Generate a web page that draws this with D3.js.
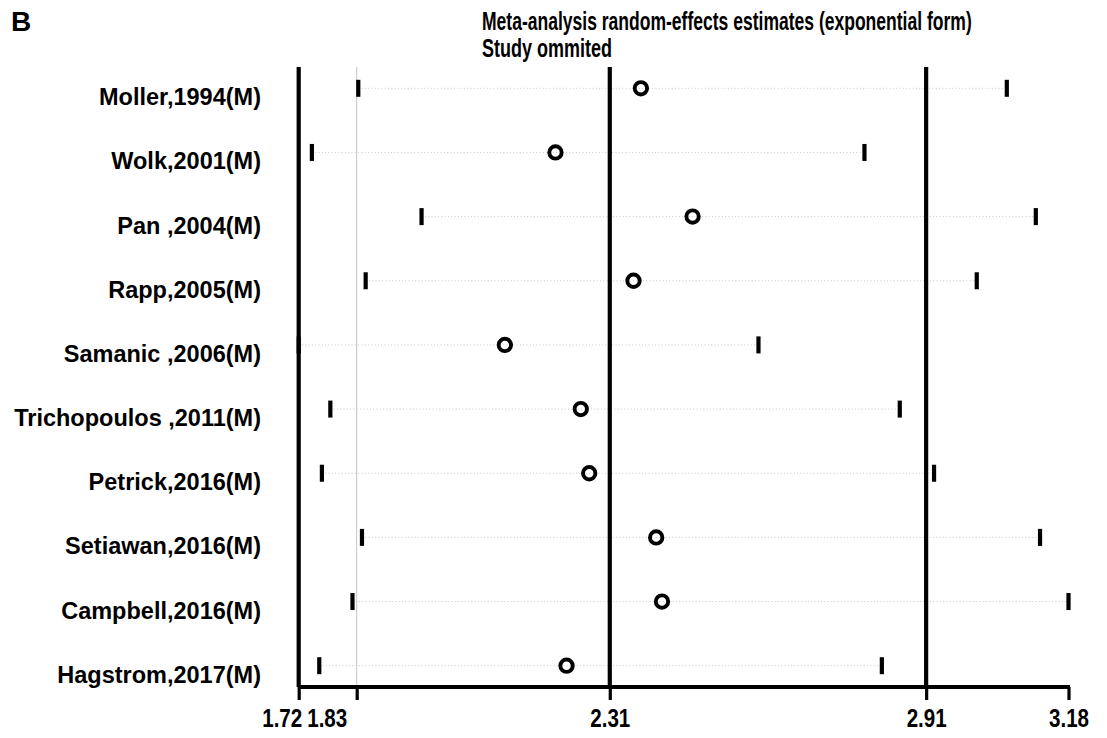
<!DOCTYPE html>
<html>
<head>
<meta charset="utf-8">
<script src="https://cdn.jsdelivr.net/npm/d3@7"></script>
<style>
  html, body { margin: 0; padding: 0; background: #fff; }
  svg { display: block; }
  text { font-family: "Liberation Sans", Arial, sans-serif; font-weight: bold; fill: #000; }
</style>
</head>
<body>
<svg id="chart" width="1107" height="738"></svg>
<script>
// Leave-one-out sensitivity analysis: pooled estimate with each study omitted
const studies = [
  "Moller,1994(M)", "Wolk,2001(M)", "Pan ,2004(M)", "Rapp,2005(M)",
  "Samanic ,2006(M)", "Trichopoulos ,2011(M)", "Petrick,2016(M)",
  "Setiawan,2016(M)", "Campbell,2016(M)", "Hagstrom,2017(M)"
];
const estimates = [2.369, 2.207, 2.467, 2.355, 2.111, 2.255, 2.271, 2.398, 2.409, 2.228];
const lowerCI   = [1.833, 1.745, 1.953, 1.847, 1.720, 1.780, 1.764, 1.840, 1.822, 1.759];
const upperCI   = [3.063, 2.793, 3.118, 3.006, 2.592, 2.860, 2.925, 3.126, 3.180, 2.826];

// Overall pooled estimate and its confidence limits
const pooledLower = 1.83;
const pooledEstimate = 2.31;
const pooledUpper = 2.91;

const axisMin = 1.72;
const axisMax = 3.18;
const tickValues = [1.72, 1.83, 2.31, 2.91, 3.18];
// the two crowded labels on the left are nudged apart from each other
const tickLabelShift = { "1.72": -17, "1.83": -30 };

const titleLines = ["Meta-analysis random-effects estimates (exponential form)", "Study ommited"];
const panelLetter = "B";

const rows = studies.map((s, i) => ({
  study: s, est: estimates[i], lo: lowerCI[i], hi: upperCI[i]
}));

const svg = d3.select("#chart");

const x = d3.scaleLinear().domain([axisMin, axisMax]).range([298.7, 1068.5]);
const y = d3.scalePoint().domain(studies).range([88.3, 665.7]);

const plotTop = 67;
const axisY = 687;

// Panel letter
svg.append("text").attr("x", 11).attr("y", 31)
  .style("font-size", "28px").text(panelLetter);

// Title lines, horizontally condensed to a fixed width
function condensedText(str, left, baseline, width, size) {
  const t = svg.append("text").attr("x", 0).attr("y", 0)
    .style("font-size", size + "px").text(str);
  const natural = t.node().getComputedTextLength();
  t.attr("transform", `translate(${left},${baseline}) scale(${width / natural},1)`);
  return t;
}
condensedText(titleLines[0], 482, 30, 490, 25);
condensedText(titleLines[1], 482, 57, 130, 25);

// Thin grey reference at the pooled lower limit
svg.append("line")
  .attr("x1", x(pooledLower)).attr("x2", x(pooledLower))
  .attr("y1", plotTop).attr("y2", axisY)
  .attr("stroke", "#c4c4c4").attr("stroke-width", 1);

// Dotted interval lines
svg.append("g").selectAll("line").data(rows).join("line")
  .attr("x1", d => x(d.lo)).attr("x2", d => x(d.hi))
  .attr("y1", d => y(d.study)).attr("y2", d => y(d.study))
  .attr("stroke", "#c8c8c8").attr("stroke-width", 1)
  .attr("stroke-dasharray", "1,2.3");

// Interval end markers
const capW = 4.2, capH = 17;
svg.append("g").selectAll("rect").data(rows.flatMap(d => [
    { v: d.lo, s: d.study }, { v: d.hi, s: d.study }
  ])).join("rect")
  .attr("x", d => x(d.v) - capW / 2).attr("y", d => y(d.s) - capH / 2)
  .attr("width", capW).attr("height", capH).attr("fill", "#000");

// Bold reference lines: pooled estimate and pooled upper limit
svg.append("g").selectAll("line").data([pooledEstimate, pooledUpper]).join("line")
  .attr("x1", d => x(d)).attr("x2", d => x(d))
  .attr("y1", plotTop).attr("y2", axisY)
  .attr("stroke", "#000").attr("stroke-width", 4.2);

// Point estimates
svg.append("g").selectAll("circle").data(rows).join("circle")
  .attr("cx", d => x(d.est)).attr("cy", d => y(d.study))
  .attr("r", 6.2).attr("fill", "none")
  .attr("stroke", "#000").attr("stroke-width", 3.9);

// Left axis with study labels
svg.append("line")
  .attr("x1", x(axisMin)).attr("x2", x(axisMin))
  .attr("y1", plotTop).attr("y2", axisY)
  .attr("stroke", "#000").attr("stroke-width", 4.2);

svg.append("g").selectAll("text").data(studies).join("text")
  .attr("x", 261).attr("y", d => y(d) + 17)
  .attr("text-anchor", "end")
  .style("font-size", "23.5px")
  .text(d => d);

// Bottom axis
const fmt = d3.format(".2f");
const xAxis = d3.axisBottom(x).tickValues(tickValues)
  .tickFormat(fmt).tickSize(13).tickPadding(9);
const gx = svg.append("g").attr("transform", `translate(0,${axisY})`).call(xAxis);
gx.select(".domain").attr("stroke", "#000").attr("stroke-width", 4.2)
  .attr("d", `M${x(axisMin)},0H${x(axisMax) + 1.5}`);
gx.selectAll(".tick line").attr("stroke", "#000").attr("stroke-width", 3.2);
gx.selectAll(".tick text")
  .style("font-size", "25px").style("font-family", null)
  .attr("fill", "#000")
  .attr("textLength", 40).attr("lengthAdjust", "spacingAndGlyphs")
  .attr("dx", d => tickLabelShift[fmt(d)] || 0);
</script>
</body>
</html>
